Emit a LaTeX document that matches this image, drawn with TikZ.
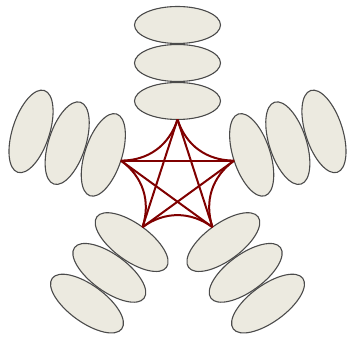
\documentclass[tikz,border=0pt]{standalone}
\usetikzlibrary{shapes.geometric}
\definecolor{petalFill}{RGB}{236,234,224}
\definecolor{petalDraw}{RGB}{75,75,75}
\definecolor{starRed}{RGB}{128,0,0}
\tikzset{
  petal/.style={ellipse,draw=petalDraw,fill=petalFill,line width=1.1pt,
    minimum width=86pt,minimum height=37pt,inner sep=0pt,outer sep=0pt},
  sline/.style={draw=starRed,line width=2pt},
  sarc/.style={sline,bend right=36},
}
\begin{document}
\begin{tikzpicture}[x=1pt,y=1pt]
\useasboundingbox (0,0) rectangle (351,337);
\begin{scope}[shift={(177.5,158)}]
% top arm
\node[petal] (t1) at (90:78) {};
\node[petal] (t2) at (90:116) {};
\node[petal] (t3) at (90:154) {};
% left arm
\node[petal,rotate=72] (l1) at (162:78) {};
\node[petal,rotate=72] (l2) at (162:116) {};
\node[petal,rotate=72] (l3) at (162:154) {};
% lower left arm
\node[petal,rotate=144] (bl1) at (234:78) {};
\node[petal,rotate=144] (bl2) at (234:116) {};
\node[petal,rotate=144] (bl3) at (234:154) {};
% lower right arm
\node[petal,rotate=216] (br1) at (306:78) {};
\node[petal,rotate=216] (br2) at (306:116) {};
\node[petal,rotate=216] (br3) at (306:154) {};
% right arm
\node[petal,rotate=288] (r1) at (18:78) {};
\node[petal,rotate=288] (r2) at (18:116) {};
\node[petal,rotate=288] (r3) at (18:154) {};
\end{scope}
% star
\draw[sline] (t1.south) -- (bl1.south);
\draw[sline] (bl1.south) -- (r1.south);
\draw[sline] (r1.south) -- (l1.south);
\draw[sline] (l1.south) -- (br1.south);
\draw[sline] (br1.south) -- (t1.south);
% curved rim
\draw[sarc] (t1.south) to (r1.south);
\draw[sarc] (r1.south) to (br1.south);
\draw[sarc] (br1.south) to (bl1.south);
\draw[sarc] (bl1.south) to (l1.south);
\draw[sarc] (l1.south) to (t1.south);
\end{tikzpicture}
\end{document}
